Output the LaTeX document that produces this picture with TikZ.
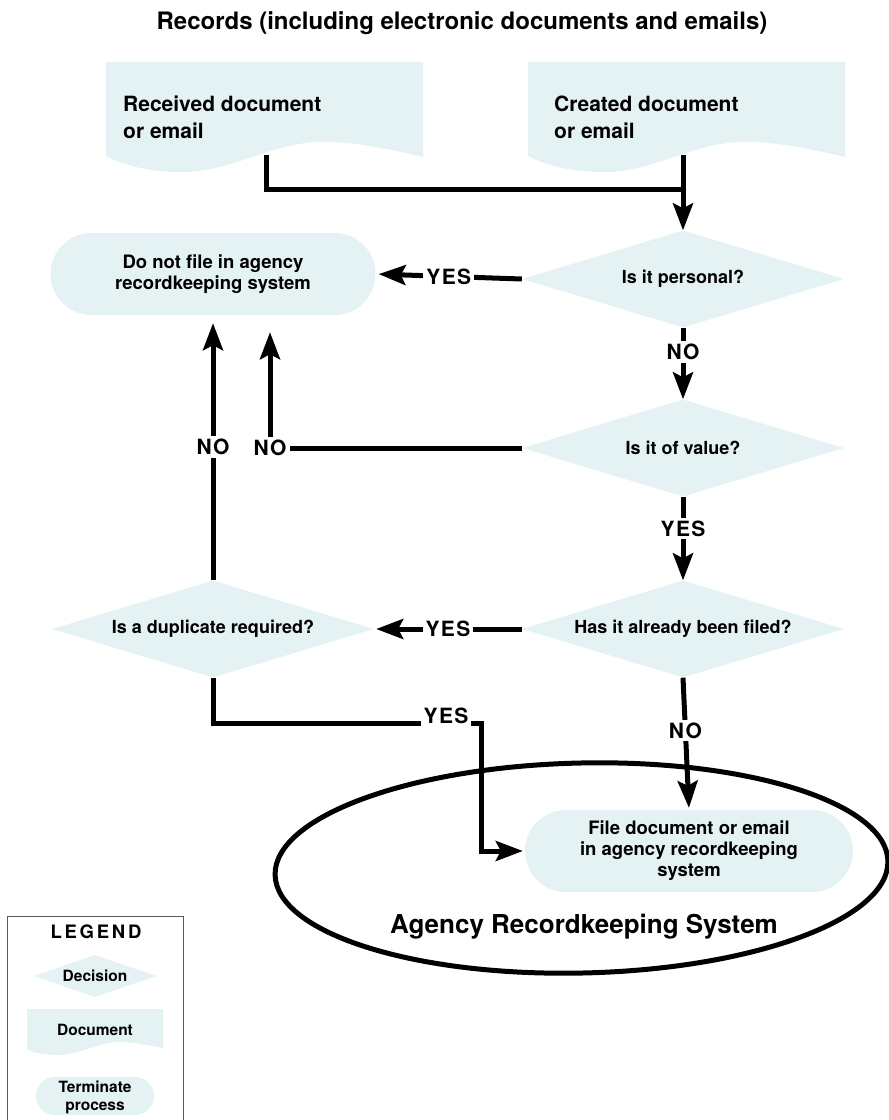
\documentclass[tikz,border=0pt]{standalone}
\usepackage{fontspec}
\setmainfont{TeX Gyre Heros}
\newfontfamily\labfont[LetterSpace=6]{TeX Gyre Heros}
\newfontfamily\legfont[LetterSpace=15]{TeX Gyre Heros}
\usetikzlibrary{shapes.geometric,arrows.meta,calc}
\definecolor{boxfill}{RGB}{228,242,243}
\definecolor{legline}{RGB}{90,90,90}
\begin{document}
\begin{tikzpicture}[x=1pt,y=-1pt,
  conn/.style={line width=5pt},
  arr/.style={line width=5pt,-{Stealth[length=27pt,width=20pt,inset=5pt]}},
  doctext/.style={font=\bfseries\fontsize{21}{27}\selectfont, align=left, anchor=north west, inner sep=0pt},
  dia/.style={diamond, fill=boxfill, aspect=3.3, inner sep=0pt, minimum width=322pt, minimum height=97pt, font=\bfseries\fontsize{18}{21}\selectfont},
  term/.style={rectangle, rounded corners=41pt, fill=boxfill, minimum width=325pt, minimum height=82pt, inner sep=0pt, align=center, font=\bfseries\fontsize{18.5}{21}\selectfont},
  lab/.style={font=\labfont\bfseries\fontsize{21}{24}\selectfont, fill=white, inner sep=3pt},
  legtext/.style={font=\bfseries\fontsize{15.5}{18}\selectfont, align=center, inner sep=0pt}
]
\useasboundingbox (0,0) rectangle (889,1120);

% title
\node[font=\bfseries\fontsize{24}{28}\selectfont, anchor=base] (title) at (462,29) {Records (including electronic documents and emails)};

% document shapes
\fill[boxfill] (106,62) -- (423,62) -- (423,157) .. controls (385,148) and (350,141) .. (317,142) .. controls (270,144) and (230,172) .. (183,172) .. controls (150,172) and (125,166) .. (106,156) -- cycle;
\fill[boxfill] (528,62) -- (845,62) -- (845,157) .. controls (807,148) and (772,141) .. (739,142) .. controls (692,144) and (652,172) .. (605,172) .. controls (572,172) and (547,166) .. (528,156) -- cycle;
\node[doctext] (rec) at (123,96) {Received document\\or email};
\node[doctext] (cre) at (554,96) {Created document\\or email};
\coordinate (recout) at (266,155);
\coordinate (creout) at (683,155);

% decisions
\node[dia] (d1) at (683,279) {Is it personal?};
\node[dia] (d2) at (683,448) {Is it of value?};
\node[dia] (d3) at (683,629) {Has it already been filed?};
\node[dia] (d4) at (213,629) {Is a duplicate required?};

% terminals
\node[term] (t1) at (213,274) {Do not file in agency\\recordkeeping system};
\node[term, minimum width=328pt] (t2) at (689,851) {File document or email\\in agency recordkeeping\\system};

% system ellipse
\node[draw, ellipse, line width=5pt, minimum width=613pt, minimum height=210pt, inner sep=0pt, rotate=1.3] (sys) at (581.5,868) {};
\node[font=\bfseries\fontsize{26}{30}\selectfont] (syslab) at (584,927) {Agency Recordkeeping System};

% connectors from documents
\coordinate (join) at (683,189);
\draw[conn] (recout) |- (join);
\draw[arr] (creout) -- (d1.north);

% d1
\draw[arr, shorten >=3pt] (d1.west) -- node[lab] (yes1) {YES} (t1.east);
\draw[arr] (d1.south) -- node[lab, pos=0.34] (no1) {NO} (d2.north);

% d2
\node[lab] (no3) at (270,448) {NO};
\draw[conn] (d2.west) -- (no3.east);
\draw[arr, shorten >=17pt] (no3.north) -- (no3.north |- t1.south);
\draw[arr] (d2.south) -- node[lab, pos=0.38] (yes2) {YES} (d3.north);

% d3
\draw[arr, shorten >=2pt] (d3.west) -- node[lab] (yes3) {YES} (d4.east);
\draw[arr, shorten >=2pt] (d3.south) -- node[lab, pos=0.4] (no4) {NO} (t2.north);

% d4
\node[lab] (no2) at (213,447) {NO};
\draw[conn] (d4.north) -- (no2.south);
\draw[arr, shorten >=8pt] (no2.north) -- (t1.south);
\node[lab, anchor=base] (yes4) at (446,723) {YES};
\coordinate (c9) at (481,723);
\draw[conn] (d4.south) |- (yes4.base west);
\draw[arr, shorten >=2pt] (yes4.base east) -- (c9) |- (t2.west);

% legend
\draw[legline, line width=1pt] (7,1122) -- (7,916) -- (183,916) -- (183,1122);
\node[font=\legfont\bfseries\fontsize{18.5}{22}\selectfont] (legend) at (96,932) {LEGEND};
\node[diamond, fill=boxfill, aspect=3, inner sep=0pt, minimum width=123pt, minimum height=42pt] (ldia) at (95,976) {};
\node[legtext] (ldiat) at (95,976) {Decision};
\fill[boxfill] (27,1009) -- (163,1009) -- (163,1048) .. controls (147,1045) and (133,1042) .. (118,1042) .. controls (97,1043) and (78,1055) .. (58,1055) .. controls (45,1055) and (35,1053) .. (27,1050) -- cycle;
\node[legtext] (ldoc) at (95,1030) {Document};
\node[rectangle, rounded corners=19pt, fill=boxfill, minimum width=118pt, minimum height=38pt, inner sep=0pt] (lterm) at (95,1096) {};
\node[legtext] (ltermt) at (95,1097) {Terminate\\process};
\end{tikzpicture}
\end{document}
